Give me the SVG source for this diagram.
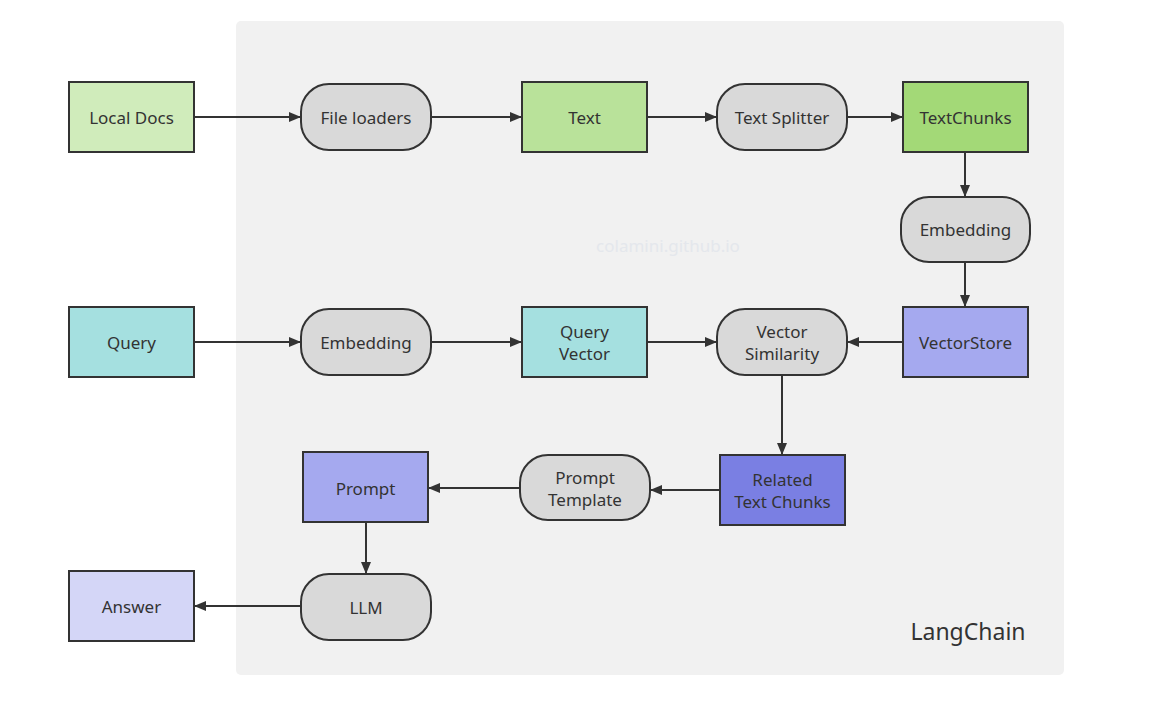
<svg xmlns="http://www.w3.org/2000/svg" width="1175" height="720" viewBox="0 0 1175 720">
<style>
.n{stroke:#333;stroke-width:2}
.t{font-family:"Noto Sans","Open Sans","Liberation Sans",sans-serif;font-size:17px;fill:#333;text-anchor:middle;dominant-baseline:central}
.c{stroke:#333;stroke-width:2;fill:none;marker-end:url(#ah)}
.g{fill:#d9d9d9}
</style>
<defs>
<marker id="ah" markerWidth="12" markerHeight="10" refX="12" refY="5" orient="auto" markerUnits="userSpaceOnUse">
<path d="M0,0 L12,5 L0,10 Z" fill="#333"/>
</marker>
</defs>
<rect width="1175" height="720" fill="#fff"/>
<rect id="container" x="236" y="21" width="828" height="654" rx="5" fill="#f1f1f1"/>
<text x="668" y="245" class="t" style="fill:#e4e7ec">colamini.github.io</text>
<text x="968" y="631" class="t" style="font-size:23px">LangChain</text>
<g id="connectors">
<line class="c" x1="194" y1="117" x2="301" y2="117"/>
<line class="c" x1="431" y1="117" x2="522" y2="117"/>
<line class="c" x1="647" y1="117" x2="717" y2="117"/>
<line class="c" x1="847" y1="117" x2="903" y2="117"/>
<line class="c" x1="965" y1="152" x2="965" y2="197"/>
<line class="c" x1="965" y1="262" x2="965" y2="307"/>
<line class="c" x1="903" y1="342" x2="847" y2="342"/>
<line class="c" x1="194" y1="342" x2="301" y2="342"/>
<line class="c" x1="431" y1="342" x2="522" y2="342"/>
<line class="c" x1="647" y1="342" x2="717" y2="342"/>
<line class="c" x1="782" y1="375" x2="782" y2="455"/>
<line class="c" x1="720" y1="490" x2="650" y2="490"/>
<line class="c" x1="520" y1="488" x2="428" y2="488"/>
<line class="c" x1="366" y1="522" x2="366" y2="574"/>
<line class="c" x1="301" y1="606" x2="194" y2="606"/>
</g>
<g id="local-docs"><rect class="n" x="69" y="82" width="125" height="70" fill="#d0ecbb"/><text class="t" x="131.5" y="117">Local Docs</text></g>
<g id="file-loaders"><rect class="n g" x="301" y="84" width="130" height="66" rx="28"/><text class="t" x="366" y="117">File loaders</text></g>
<g id="text"><rect class="n" x="522" y="82" width="125" height="70" fill="#b9e29a"/><text class="t" x="584.5" y="117">Text</text></g>
<g id="text-splitter"><rect class="n g" x="717" y="84" width="130" height="66" rx="28"/><text class="t" x="782" y="117">Text Splitter</text></g>
<g id="textchunks"><rect class="n" x="903" y="82" width="125" height="70" fill="#a3d977"/><text class="t" x="965.5" y="117">TextChunks</text></g>
<g id="embedding-1"><rect class="n g" x="901" y="197" width="129" height="65" rx="28"/><text class="t" x="965.5" y="229.5">Embedding</text></g>
<g id="vectorstore"><rect class="n" x="903" y="307" width="125" height="70" fill="#a5a9ef"/><text class="t" x="965.5" y="342">VectorStore</text></g>
<g id="query"><rect class="n" x="69" y="307" width="125" height="70" fill="#a5e0e0"/><text class="t" x="131.5" y="342">Query</text></g>
<g id="embedding-2"><rect class="n g" x="301" y="309" width="130" height="66" rx="28"/><text class="t" x="366" y="342">Embedding</text></g>
<g id="query-vector"><rect class="n" x="522" y="307" width="125" height="70" fill="#a5e0e0"/><text class="t" x="584.5" y="331">Query</text><text class="t" x="584.5" y="353">Vector</text></g>
<g id="vector-similarity"><rect class="n g" x="717" y="309" width="130" height="66" rx="28"/><text class="t" x="782" y="331">Vector</text><text class="t" x="782" y="353">Similarity</text></g>
<g id="related-text-chunks"><rect class="n" x="720" y="455" width="125" height="70" fill="#7a7fe3"/><text class="t" x="782.5" y="479">Related</text><text class="t" x="782.5" y="501">Text Chunks</text></g>
<g id="prompt-template"><rect class="n g" x="520" y="455" width="130" height="65" rx="28"/><text class="t" x="585" y="477">Prompt</text><text class="t" x="585" y="499">Template</text></g>
<g id="prompt"><rect class="n" x="303" y="452" width="125" height="70" fill="#a5a9ef"/><text class="t" x="365.5" y="488">Prompt</text></g>
<g id="llm"><rect class="n g" x="301" y="574" width="130" height="66" rx="28"/><text class="t" x="366" y="607">LLM</text></g>
<g id="answer"><rect class="n" x="69" y="571" width="125" height="70" fill="#d4d6f7"/><text class="t" x="131.5" y="606">Answer</text></g>
</svg>
